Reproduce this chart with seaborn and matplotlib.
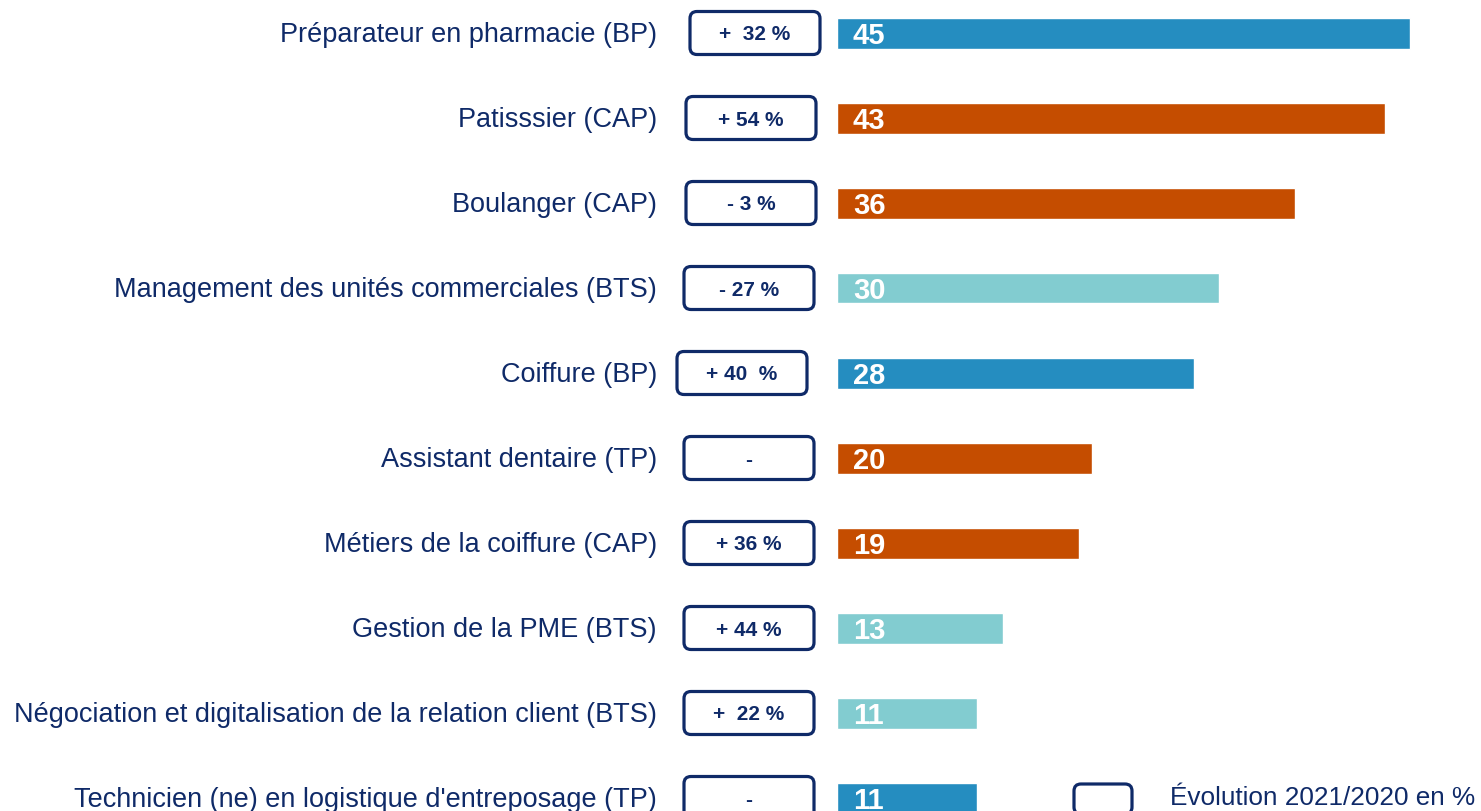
import matplotlib
matplotlib.use("Agg")
import matplotlib.pyplot as plt
import seaborn as sns
import pandas as pd
from matplotlib.patches import FancyBboxPatch

# data
formations = [
    "Préparateur en pharmacie (BP)",
    "Patisssier (CAP)",
    "Boulanger (CAP)",
    "Management des unités commerciales (BTS)",
    "Coiffure (BP)",
    "Assistant dentaire (TP)",
    "Métiers de la coiffure (CAP)",
    "Gestion de la PME (BTS)",
    "Négociation et digitalisation de la relation client (BTS)",
    "Technicien (ne) en logistique d'entreposage (TP)",
]
effectifs = [45, 43, 36, 30, 28, 20, 19, 13, 11, 11]
groupe = ["bleu", "orange", "orange", "turquoise", "bleu", "orange",
          "orange", "turquoise", "turquoise", "bleu"]
evolution = ["+  32 %", "+ 54 %", "- 3 %", "- 27 %", "+ 40  %", "-",
             "+ 36 %", "+ 44 %", "+  22 %", "-"]
legende = "Évolution 2021/2020 en %"

couleurs = {"bleu": "#258DC0", "orange": "#C54D00", "turquoise": "#82CCD0"}
navy = "#0F2A68"

df = pd.DataFrame({"formation": formations, "effectif": effectifs, "groupe": groupe})

sns.set_theme(style="white")
plt.rcParams["font.family"] = ["Liberation Sans", "DejaVu Sans"]

W, H = 1481, 811
fig = plt.figure(figsize=(W / 100, H / 100), dpi=100)
ax = fig.add_axes([0, 0, 1, 1])

# pixel layout -> data units
x0 = 837          # pixel where bars start
px_unit = 573 / 45
row_px = 85
row0 = 33

sns.barplot(data=df, x="effectif", y="formation", hue="formation",
            palette=[couleurs[g] for g in groupe], legend=False,
            width=31 / row_px, saturation=1, ax=ax)

ax.set_xlim(-x0 / px_unit, (W - x0) / px_unit)
ax.set_ylim((H - row0) / row_px, -row0 / row_px)
ax.axis("off")

def px_x(p):
    return (p - x0) / px_unit

box_centers = [755, 751, 751, 749, 742, 749, 749, 749, 749, 749]
box_w = 130 / px_unit
box_h = 43 / row_px
aspect = px_unit / row_px
dy = 2 / row_px

for i, (lab, val, ev) in enumerate(zip(formations, effectifs, evolution)):
    ax.text(px_x(657), i + dy, lab, ha="right", va="center", fontsize=19.5, color=navy)
    ax.text(1.25, i + 0.03, str(val), ha="left", va="center", fontsize=21,
            fontweight="bold", color="white")
    cx = px_x(box_centers[i])
    ax.add_patch(FancyBboxPatch((cx - box_w / 2, i - box_h / 2), box_w, box_h,
                                boxstyle="round,pad=0,rounding_size=0.55",
                                mutation_aspect=aspect, facecolor="white",
                                edgecolor=navy, linewidth=2.3, clip_on=False))
    ax.text(cx, i + dy, ev, ha="center", va="center", fontsize=15,
            fontweight="bold", color=navy)

# legend
ly = 798
ax.add_patch(FancyBboxPatch((px_x(1074), (784 - row0) / row_px), 58 / px_unit,
                            30 / row_px, boxstyle="round,pad=0,rounding_size=0.55",
                            mutation_aspect=aspect, facecolor="white",
                            edgecolor=navy, linewidth=2.3, clip_on=False))
ax.text(px_x(1170), (ly - row0) / row_px, legende, ha="left", va="center",
        fontsize=18.8, color=navy)

fig.savefig("out.png", dpi=100)
